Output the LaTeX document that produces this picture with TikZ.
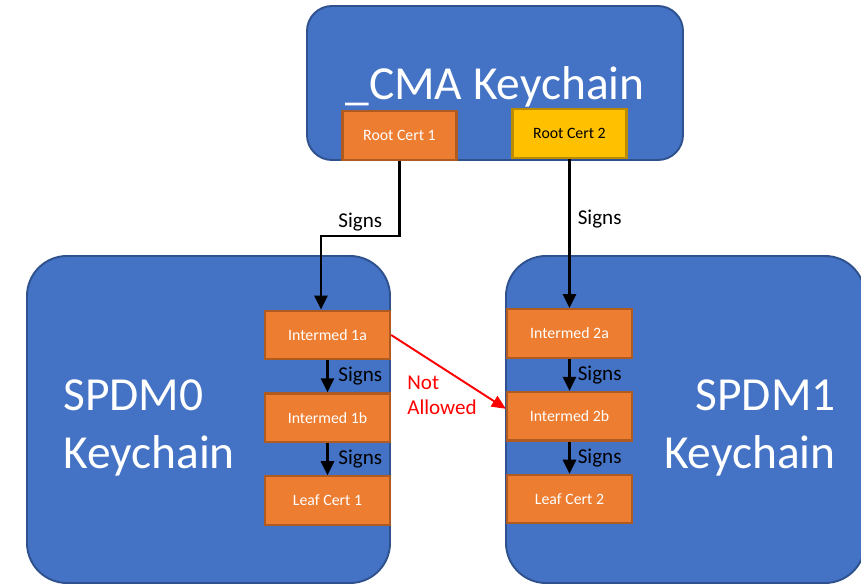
\documentclass[tikz,border=0pt]{standalone}
\usepackage{fontspec}
\setmainfont{Carlito}
\usetikzlibrary{positioning,arrows.meta}
\definecolor{keyblue}{HTML}{4472C4}
\definecolor{keyblueline}{HTML}{2F528F}
\definecolor{certorange}{HTML}{ED7D31}
\definecolor{certorangeline}{HTML}{AE5A21}
\definecolor{certgold}{HTML}{FFC000}
\definecolor{certgoldline}{HTML}{BC8C00}
\tikzstyle{keychain} = [rectangle,
                    rounded corners=0.8cm,
                    fill=keyblue,
                    draw=keyblueline,
                    line width=1.1pt]
\tikzstyle{cert} = [rectangle,
                    minimum width=2.5cm,
                    minimum height=0.97cm,
                    text centered,
                    % orange boxes with white text
                    fill=certorange,
                    draw=certorangeline,
                    line width=1.3pt,
                    text=white,
                    font=\fontsize{9}{11}\selectfont]
\tikzstyle{rootcert} = [cert,
                    minimum width=2.28cm]
\tikzstyle{chaintitle} = [text=white,
                    inner sep=0pt,
                    font=\fontsize{27}{33}\selectfont]
\tikzstyle{signs} = [-{Triangle[width=7.5pt,length=8pt]},
                    line width=1.4pt]
\tikzstyle{signlabel} = [font=\fontsize{12}{14}\selectfont,
                    inner sep=2pt]

\begin{document}
\begin{tikzpicture}[node distance=0.64cm]
\useasboundingbox (0,0) rectangle (17.22,11.68);
% keychains
\node (cma) [keychain, rounded corners=0.5cm, minimum width=7.52cm, minimum height=3.08cm] at (9.90,10.02) {};
\node (spdm0) [keychain, minimum width=7.26cm, minimum height=6.54cm] at (4.17,3.29) {};
\node (spdm1) [keychain, minimum width=7.18cm, minimum height=6.54cm] at (13.71,3.29) {};
\node (cmatitle) [chaintitle, anchor=base] at (9.90,9.68) {\_CMA Keychain};
\node (spdm0title) [chaintitle, align=left, anchor=west] at (1.26,3.12) {SPDM0\\Keychain};
\node (spdm1title) [chaintitle, align=right, anchor=east] at (16.72,3.12) {SPDM1\\Keychain};
% certs
\node (rc1) [rootcert] at (7.99,8.97) {Root Cert 1};
\node (rc2) [rootcert, fill=certgold, draw=certgoldline, text=black] at (11.39,9.01) {Root Cert 2};
\node (i1a) [cert] at (6.55,4.98) {Intermed 1a};
\node (i1b) [cert, below= of i1a] {Intermed 1b};
\node (leaf1) [cert, below= of i1b] {Leaf Cert 1};
\node (i2a) [cert] at (11.39,5.01) {Intermed 2a};
\node (i2b) [cert, below= of i2a] {Intermed 2b};
\node (leaf2) [cert, below= of i2b] {Leaf Cert 2};
% arrows
\coordinate (bend1) at (6.42,6.96);
\draw[signs] (rc1.south) |- node[signlabel, above, pos=0.75] {Signs} (bend1) -- (bend1 |- i1a.north);
\draw[signs] (rc2.south) -- node[signlabel, right=2pt, pos=0.4] {Signs} (i2a.north);
\draw[signs] (i1a) -- node[signlabel, right=3.5pt] {Signs} (i1b);
\draw[signs] (i1b) -- node[signlabel, right=3.5pt] {Signs} (leaf1);
\draw[signs] (i2a) -- node[signlabel, right=2pt] {Signs} (i2b);
\draw[signs] (i2b) -- node[signlabel, right=2pt] {Signs} (leaf2);
\draw[-{Triangle[width=7pt,length=8pt]}, red, line width=1.1pt] (i1a.east) -- ([yshift=0.15cm]i2b.west);
\node (notok) [red, align=left, font=\fontsize{12}{14.4}\selectfont] at (8.84,3.78) {Not\\Allowed};
\end{tikzpicture}
\end{document}
